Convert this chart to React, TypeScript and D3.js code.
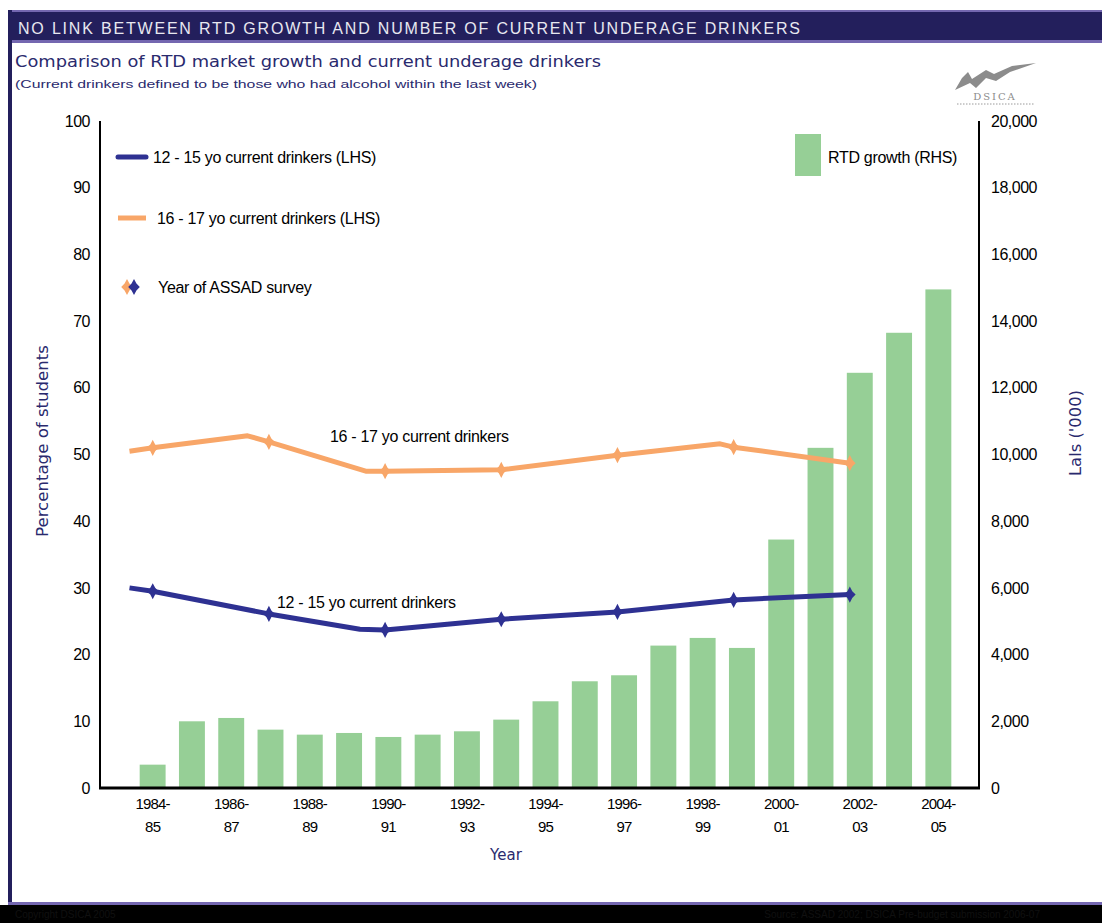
import React from 'react';
import * as d3 from 'd3';

// ---- data ----
const categories = [
  '1984-85', '1985-86', '1986-87', '1987-88', '1988-89', '1989-90', '1990-91',
  '1991-92', '1992-93', '1993-94', '1994-95', '1995-96', '1996-97', '1997-98',
  '1998-99', '1999-00', '2000-01', '2001-02', '2002-03', '2003-04', '2004-05',
];
// RTD growth, Lals ('000)
const rtdGrowth = [
  700, 2000, 2100, 1750, 1600, 1650, 1530, 1600, 1700, 2050, 2600,
  3200, 3380, 4270, 4500, 4200, 7450, 10200, 12450, 13650, 14950,
];
// 12 - 15 yo current drinkers (%), line vertices by year
const youngYears = [1983.4, 1984, 1987, 1989.35, 1990, 1993, 1996, 1999, 2002];
const youngPct = [30.0, 29.5, 26.1, 23.8, 23.7, 25.3, 26.4, 28.2, 29.0];
// 16 - 17 yo current drinkers (%), line vertices by year
const olderYears = [1983.4, 1984, 1986.45, 1987, 1989.5, 1990, 1993, 1996, 1998.65, 1999, 2002];
const olderPct = [50.5, 51.0, 52.8, 51.9, 47.5, 47.5, 47.7, 49.9, 51.6, 51.1, 48.7];
// ASSAD survey years
const surveyYears = [1984, 1987, 1990, 1993, 1996, 1999, 2002];

const leftTicks = [0, 10, 20, 30, 40, 50, 60, 70, 80, 90, 100];
const rightTicks = [0, 2000, 4000, 6000, 8000, 10000, 12000, 14000, 16000, 18000, 20000];

// ---- layout ----
const W = 1102;
const H = 923;
const PLOT_L = 100;
const PLOT_R = 979;
const PLOT_T = 121;
const PLOT_B = 788;
const BAND_L = 133;
const BAND_R = 958;
const LINE_X0 = 114;
const LINE_X1 = 966;

const NAVY = '#231f5c';
const PURPLE = '#7467b0';
const BLUE = '#2e3192';
const ORANGE = '#f8a668';
const GREEN = '#96cf96';
const AXIS_TEXT = '#2a2a6e';
const SANS = '"Liberation Sans", Arial, sans-serif';
const WIDE = '"DejaVu Sans", Verdana, sans-serif';

// four-pointed marker used for survey years
const starSymbol = {
  draw(ctx: any, size: number) {
    const h = Math.sqrt(size) * 0.5;
    const w = h * 0.72;
    const k = 0.42;
    ctx.moveTo(0, -h);
    ctx.lineTo(w * k, -h * k);
    ctx.lineTo(w, 0);
    ctx.lineTo(w * k, h * k);
    ctx.lineTo(0, h);
    ctx.lineTo(-w * k, h * k);
    ctx.lineTo(-w, 0);
    ctx.lineTo(-w * k, -h * k);
    ctx.closePath();
  },
};

export default function App() {
  const x = d3.scaleBand<string>()
    .domain(categories)
    .range([BAND_L, BAND_R])
    .paddingInner(0.34)
    .paddingOuter(0.17);
  const yL = d3.scaleLinear().domain([0, 100]).range([PLOT_B, PLOT_T]);
  const yR = d3.scaleLinear().domain([0, 20000]).range([PLOT_B, PLOT_T]);
  const xYear = d3.scaleLinear().domain([1983, 2005]).range([LINE_X0, LINE_X1]);

  const line = d3.line<[number, number]>()
    .x((d) => xYear(d[0]))
    .y((d) => yL(d[1]));

  const youngPts: [number, number][] = youngYears.map((yr, i) => [yr, youngPct[i]]);
  const olderPts: [number, number][] = olderYears.map((yr, i) => [yr, olderPct[i]]);
  const valueAt = (years: number[], vals: number[], yr: number) => vals[years.indexOf(yr)];

  const star = d3.symbol().type(starSymbol as any).size(260)();
  const bw = x.bandwidth();

  return (
    <svg
      width={W}
      height={H}
      viewBox={`0 0 ${W} ${H}`}
      style={{ position: 'absolute', left: 0, top: 0, display: 'block', background: '#fff' }}
    >
      {/* frame */}
      <rect x={0} y={0} width={W} height={H} fill="#fff" />
      <rect x={8} y={10} width={W - 8} height={33} fill={PURPLE} />
      <rect x={8} y={12} width={W - 8} height={28} fill={NAVY} />
      <rect x={8} y={10} width={4} height={896} fill={NAVY} />
      <rect x={8} y={902} width={W - 8} height={3} fill={PURPLE} />
      <rect x={0} y={905} width={W} height={18} fill="#000" />
      <text x={18} y={34} fill="#e8e8f0" fontFamily={SANS} fontSize={16}
        textLength={782} lengthAdjust="spacing">
        NO LINK BETWEEN RTD GROWTH AND NUMBER OF CURRENT UNDERAGE DRINKERS
      </text>
      <text x={15} y={67} fill={AXIS_TEXT} fontFamily={WIDE} fontSize={15}
        textLength={586} lengthAdjust="spacingAndGlyphs">
        Comparison of RTD market growth and current underage drinkers
      </text>
      <text x={15} y={88} fill={AXIS_TEXT} fontFamily={SANS} fontSize={11}
        textLength={522} lengthAdjust="spacingAndGlyphs">
        (Current drinkers defined to be those who had alcohol within the last week)
      </text>
      <text x={15} y={918} fill="#101010" fontFamily={SANS} fontSize={10}>Copyright DSICA 2005</text>
      <text x={1040} y={918} fill="#101010" fontFamily={SANS} fontSize={10} textAnchor="end">
        Source: ASSAD 2002; DSICA Pre-budget submission 2006-07
      </text>

      {/* logo */}
      <path
        d="M955,90 L962,78 L968,72 L972,79 L986,70 L994,74 L1012,66 L1036,63 L1010,72 L996,81 L986,78 L976,88 L970,83 Z"
        fill="#8c8c8c"
      />
      <text x={995} y={100} fill="#8c8c8c" fontFamily='"DejaVu Serif", serif' fontSize={10}
        textAnchor="middle" letterSpacing={2}>DSICA</text>
      <line x1={957} x2={1034} y1={104} y2={104} stroke="#9a9a9a" strokeWidth={1} strokeDasharray="1.5 1.5" />

      {/* bars */}
      {categories.map((c, i) => (
        <rect key={c} x={x(c)} y={yR(rtdGrowth[i])} width={bw}
          height={PLOT_B - yR(rtdGrowth[i])} fill={GREEN} />
      ))}

      {/* lines */}
      <path d={line(olderPts) || ''} fill="none" stroke={ORANGE} strokeWidth={5} strokeLinejoin="round" />
      <path d={line(youngPts) || ''} fill="none" stroke={BLUE} strokeWidth={5} strokeLinejoin="round" />
      {surveyYears.map((yr) => (
        <path key={'o' + yr} d={star || ''} fill={ORANGE}
          transform={`translate(${xYear(yr)},${yL(valueAt(olderYears, olderPct, yr))})`} />
      ))}
      {surveyYears.map((yr) => (
        <path key={'b' + yr} d={star || ''} fill={BLUE}
          transform={`translate(${xYear(yr)},${yL(valueAt(youngYears, youngPct, yr))})`} />
      ))}

      {/* line annotations */}
      <text x={330} y={442} fontFamily={SANS} fontSize={16} letterSpacing={-0.3} fill="#000">
        16 - 17 yo current drinkers
      </text>
      <text x={277} y={608} fontFamily={SANS} fontSize={16} letterSpacing={-0.3} fill="#000">
        12 - 15 yo current drinkers
      </text>

      {/* axes */}
      <line x1={PLOT_L} x2={PLOT_L} y1={PLOT_T} y2={PLOT_B} stroke="#000" strokeWidth={2} />
      <line x1={PLOT_R} x2={PLOT_R} y1={PLOT_T} y2={PLOT_B} stroke="#000" strokeWidth={2} />
      <line x1={PLOT_L - 1} x2={PLOT_R + 1} y1={PLOT_B} y2={PLOT_B} stroke="#000" strokeWidth={3} />

      {leftTicks.map((t) => (
        <text key={'l' + t} x={90} y={yL(t)} dy="0.35em" textAnchor="end"
          fontFamily={SANS} fontSize={16} letterSpacing={-0.5} fill="#000">{t}</text>
      ))}
      {rightTicks.map((t) => (
        <text key={'r' + t} x={991} y={yR(t)} dy="0.35em" textAnchor="start"
          fontFamily={SANS} fontSize={16} letterSpacing={-0.5} fill="#000">{d3.format(',')(t)}</text>
      ))}
      {categories.map((c, i) => {
        if (i % 2 !== 0) return null;
        const [a, b] = c.split('-');
        const cx = (x(c) || 0) + bw / 2;
        return (
          <text key={'x' + c} textAnchor="middle" fontFamily={SANS} fontSize={15}
            letterSpacing={-0.8} fill="#000">
            <tspan x={cx} y={809}>{a + '-'}</tspan>
            <tspan x={cx} y={832}>{b}</tspan>
          </text>
        );
      })}

      {/* axis titles */}
      <text transform="translate(48,441) rotate(-90)" textAnchor="middle" fill={AXIS_TEXT}
        fontFamily={WIDE} fontSize={15} textLength={192} lengthAdjust="spacingAndGlyphs">
        Percentage of students
      </text>
      <text transform="translate(1081,433) rotate(-90)" textAnchor="middle" fill={AXIS_TEXT}
        fontFamily={WIDE} fontSize={15} textLength={86} lengthAdjust="spacingAndGlyphs">
        Lals ('000)
      </text>
      <text x={506} y={860} textAnchor="middle" fill={AXIS_TEXT} fontFamily={WIDE} fontSize={15}>
        Year
      </text>

      {/* legend */}
      <line x1={118} x2={146} y1={157} y2={157} stroke={BLUE} strokeWidth={5} strokeLinecap="round" />
      <text x={153} y={157} dy="0.35em" fontFamily={SANS} fontSize={16} letterSpacing={-0.3} fill="#000">
        12 - 15 yo current drinkers (LHS)
      </text>
      <line x1={118} x2={146} y1={218} y2={218} stroke={ORANGE} strokeWidth={5} />
      <text x={157} y={218} dy="0.35em" fontFamily={SANS} fontSize={16} letterSpacing={-0.3} fill="#000">
        16 - 17 yo current drinkers (LHS)
      </text>
      <path d={star || ''} fill={ORANGE} transform="translate(127,287)" />
      <path d={star || ''} fill={BLUE} transform="translate(134,287)" />
      <text x={158} y={287} dy="0.35em" fontFamily={SANS} fontSize={16} letterSpacing={-0.3} fill="#000">
        Year of ASSAD survey
      </text>
      <rect x={795} y={134} width={26} height={42} fill={GREEN} />
      <text x={828} y={157} dy="0.35em" fontFamily={SANS} fontSize={16} letterSpacing={-0.3} fill="#000">
        RTD growth (RHS)
      </text>
    </svg>
  );
}
